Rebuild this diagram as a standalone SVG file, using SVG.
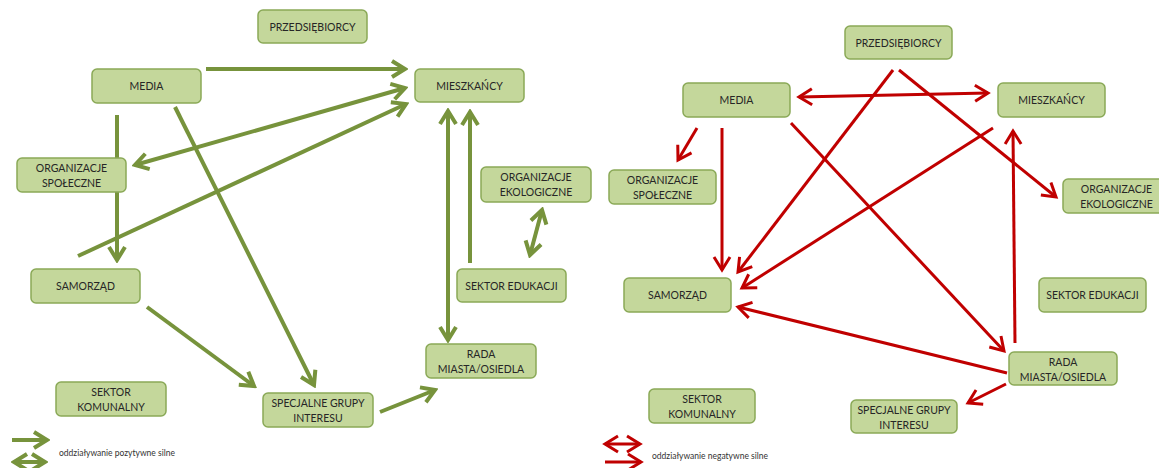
<svg xmlns="http://www.w3.org/2000/svg" width="1159" height="468" viewBox="0 0 1159 468">
  <style>
    .box { fill: #c4d79b; stroke: #8aa957; stroke-width: 1.5; }
    .lbl { font-family: Lato, "Liberation Sans", sans-serif; font-size: 10.5px; fill: #262626; text-anchor: middle; }
    .leg { font-family: Lato, "Liberation Sans", sans-serif; font-size: 8.5px; fill: #333333; }
    .pos { fill: none; stroke: #77933c; stroke-width: 4; }
    .neg { fill: none; stroke: #c00000; stroke-width: 3; }
  </style>
  <defs>
    <marker id="ag" viewBox="-16 -11 19 22" refX="0" refY="0" markerWidth="19" markerHeight="22" markerUnits="userSpaceOnUse" orient="auto-start-reverse">
      <path d="M-13,-8 L0,0 L-13,8" fill="none" stroke="#77933c" stroke-width="4"/>
    </marker>
    <marker id="ar" viewBox="-16 -11 19 22" refX="0" refY="0" markerWidth="19" markerHeight="22" markerUnits="userSpaceOnUse" orient="auto-start-reverse">
      <path d="M-13,-8 L0,0 L-13,8" fill="none" stroke="#c00000" stroke-width="3"/>
    </marker>
  </defs>

  <!-- positive influence network (left) -->
  <g id="connectors-positive">
    <path class="pos" d="M206,69 L405,69" marker-end="url(#ag)"/>
    <path class="pos" d="M135,165 L405,88" marker-start="url(#ag)" marker-end="url(#ag)"/>
    <path class="pos" d="M78,256 L406,104" marker-end="url(#ag)"/>
    <path class="pos" d="M117,115 L117,260" marker-end="url(#ag)"/>
    <path class="pos" d="M175,107 L314,385" marker-end="url(#ag)"/>
    <path class="pos" d="M147,307 L254,386" marker-end="url(#ag)"/>
    <path class="pos" d="M380,412 L435,390" marker-end="url(#ag)"/>
    <path class="pos" d="M448,111 L448,340" marker-start="url(#ag)" marker-end="url(#ag)"/>
    <path class="pos" d="M470,263 L470,112" marker-end="url(#ag)"/>
    <path class="pos" d="M530,255 L542,210" marker-start="url(#ag)" marker-end="url(#ag)"/>
  </g>

  <!-- negative influence network (right) -->
  <g id="connectors-negative">
    <path class="neg" d="M799,97 L988,93" marker-start="url(#ar)" marker-end="url(#ar)"/>
    <path class="neg" d="M893,70 L738,272" marker-end="url(#ar)"/>
    <path class="neg" d="M993,128 L742,288" marker-end="url(#ar)"/>
    <path class="neg" d="M899,70 L1056,197" marker-end="url(#ar)"/>
    <path class="neg" d="M697,128 L678,160" marker-end="url(#ar)"/>
    <path class="neg" d="M722,128 L722,270" marker-end="url(#ar)"/>
    <path class="neg" d="M791,123 L1004,351" marker-end="url(#ar)"/>
    <path class="neg" d="M1007,373 L738,307" marker-end="url(#ar)"/>
    <path class="neg" d="M1015,343 L1013,131" marker-end="url(#ar)"/>
    <path class="neg" d="M1006,384 L968,403" marker-end="url(#ar)"/>
  </g>

  <!-- left nodes -->
  <g id="l-przedsiebiorcy"><rect class="box" x="258" y="10" width="109" height="33" rx="5"/><text class="lbl" x="312.5" y="30.5">PRZEDSIĘBIORCY</text></g>
  <g id="l-media"><rect class="box" x="92" y="69" width="109" height="34" rx="5"/><text class="lbl" x="146.5" y="90">MEDIA</text></g>
  <g id="l-mieszkancy"><rect class="box" x="415" y="69" width="109" height="33" rx="5"/><text class="lbl" x="469.5" y="89.5">MIESZKAŃCY</text></g>
  <g id="l-org-spoleczne"><rect class="box" x="17" y="158" width="109" height="34" rx="5"/><text class="lbl" x="71.5" y="172">ORGANIZACJE</text><text class="lbl" x="71.5" y="187">SPOŁECZNE</text></g>
  <g id="l-org-ekologiczne"><rect class="box" x="481" y="167" width="110" height="35" rx="5"/><text class="lbl" x="536" y="181">ORGANIZACJE</text><text class="lbl" x="536" y="196">EKOLOGICZNE</text></g>
  <g id="l-samorzad"><rect class="box" x="31" y="269" width="109" height="34" rx="5"/><text class="lbl" x="85.5" y="290">SAMORZĄD</text></g>
  <g id="l-sektor-edukacji"><rect class="box" x="457" y="269" width="109" height="33" rx="5"/><text class="lbl" x="511.5" y="289.5">SEKTOR EDUKACJI</text></g>
  <g id="l-rada"><rect class="box" x="426" y="344" width="110" height="34" rx="5"/><text class="lbl" x="481" y="358">RADA</text><text class="lbl" x="481" y="373">MIASTA/OSIEDLA</text></g>
  <g id="l-sektor-komunalny"><rect class="box" x="56" y="382" width="110" height="34" rx="5"/><text class="lbl" x="111" y="396">SEKTOR</text><text class="lbl" x="111" y="411">KOMUNALNY</text></g>
  <g id="l-specjalne"><rect class="box" x="263" y="393" width="110" height="34" rx="5"/><text class="lbl" x="318" y="407">SPECJALNE GRUPY</text><text class="lbl" x="318" y="422">INTERESU</text></g>

  <!-- right nodes -->
  <g id="r-przedsiebiorcy"><rect class="box" x="845" y="26" width="107" height="33" rx="5"/><text class="lbl" x="898.5" y="46.5">PRZEDSIĘBIORCY</text></g>
  <g id="r-media"><rect class="box" x="683" y="83" width="107" height="34" rx="5"/><text class="lbl" x="736.5" y="104">MEDIA</text></g>
  <g id="r-mieszkancy"><rect class="box" x="998" y="83" width="107" height="34" rx="5"/><text class="lbl" x="1051.5" y="104">MIESZKAŃCY</text></g>
  <g id="r-org-spoleczne"><rect class="box" x="609" y="170" width="107" height="34" rx="5"/><text class="lbl" x="662.5" y="184">ORGANIZACJE</text><text class="lbl" x="662.5" y="199">SPOŁECZNE</text></g>
  <g id="r-org-ekologiczne"><rect class="box" x="1063" y="179" width="107" height="34" rx="5"/><text class="lbl" x="1116.5" y="193">ORGANIZACJE</text><text class="lbl" x="1116.5" y="208">EKOLOGICZNE</text></g>
  <g id="r-samorzad"><rect class="box" x="624" y="278" width="107" height="34" rx="5"/><text class="lbl" x="677.5" y="299">SAMORZĄD</text></g>
  <g id="r-sektor-edukacji"><rect class="box" x="1039" y="278" width="107" height="34" rx="5"/><text class="lbl" x="1092.5" y="299">SEKTOR EDUKACJI</text></g>
  <g id="r-rada"><rect class="box" x="1009" y="352" width="108" height="33" rx="5"/><text class="lbl" x="1063" y="365.5">RADA</text><text class="lbl" x="1063" y="380.5">MIASTA/OSIEDLA</text></g>
  <g id="r-sektor-komunalny"><rect class="box" x="649" y="389" width="106" height="34" rx="5"/><text class="lbl" x="702" y="403">SEKTOR</text><text class="lbl" x="702" y="418">KOMUNALNY</text></g>
  <g id="r-specjalne"><rect class="box" x="851" y="400" width="106" height="33" rx="5"/><text class="lbl" x="904" y="413.5">SPECJALNE GRUPY</text><text class="lbl" x="904" y="428.5">INTERESU</text></g>

  <!-- legends -->
  <g id="legend-positive">
    <path class="pos" d="M12,440 L47,440" marker-end="url(#ag)"/>
    <path class="pos" d="M14,462 L45,462" marker-start="url(#ag)" marker-end="url(#ag)"/>
    <text class="leg" x="59" y="456">oddziaływanie pozytywne silne</text>
  </g>
  <g id="legend-negative">
    <path class="neg" d="M605,444 L640,444" marker-start="url(#ar)" marker-end="url(#ar)"/>
    <path class="neg" d="M605,462 L641,462" marker-end="url(#ar)"/>
    <text class="leg" x="652" y="459">oddziaływanie negatywne silne</text>
  </g>
</svg>
